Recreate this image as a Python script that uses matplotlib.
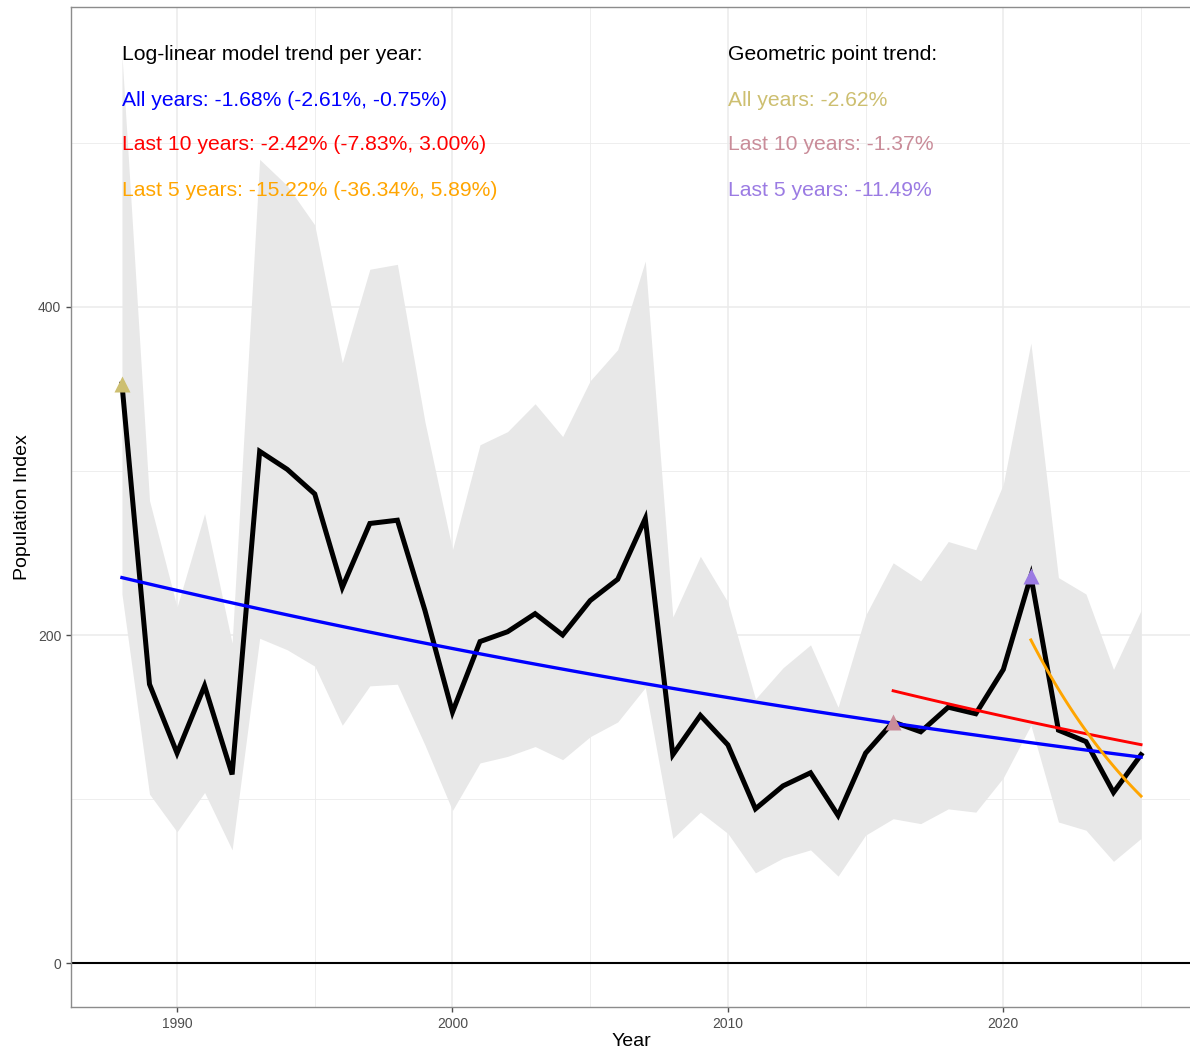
import numpy as np
import matplotlib
matplotlib.use("Agg")
import matplotlib.pyplot as plt

# data
years = list(range(1988, 2026))
index = [353, 170, 128, 169, 115, 312, 301, 286, 229, 268, 270, 215, 153,
         196, 202, 213, 200, 221, 234, 271, 127, 151, 133, 94, 108, 116,
         90, 128, 147, 141, 156, 152, 179, 236, 142, 135, 104, 127]
upper = [554, 282, 217, 274, 195, 490, 474, 450, 366, 423, 426, 330, 252,
         316, 324, 341, 321, 355, 374, 428, 211, 248, 220, 161, 180, 194,
         156, 212, 244, 233, 257, 252, 292, 378, 235, 225, 179, 215]
lower = [225, 103, 80, 104, 69, 198, 191, 181, 145, 169, 170, 133, 93,
         122, 126, 132, 124, 138, 147, 168, 76, 92, 79, 55, 64, 69,
         53, 78, 88, 85, 94, 92, 113, 145, 86, 81, 62, 76]

# log-linear fits: first year, fitted value at first year, yearly change
trend_start = [1988, 2016, 2021]
trend_value = [235, 166, 197]
trend_rate = [-0.0168, -0.0242, -0.1522]
trend_colors = ["#0000FF", "#FF0000", "#FFA500"]

# geometric point trend markers
point_years = [1988, 2016, 2021]
point_colors = ["#CDBF70", "#C98C99", "#9B7BE3"]

left_labels = ["Log-linear model trend per year:",
               "All years: -1.68% (-2.61%, -0.75%)",
               "Last 10 years: -2.42% (-7.83%, 3.00%)",
               "Last 5 years: -15.22% (-36.34%, 5.89%)"]
right_labels = ["Geometric point trend:",
                "All years: -2.62%",
                "Last 10 years: -1.37%",
                "Last 5 years: -11.49%"]
label_y = [554, 526, 499, 471]

plt.rcParams['font.family'] = ['Liberation Sans', 'DejaVu Sans']

fig = plt.figure(figsize=(11.9, 10.56), dpi=100)
ax = fig.add_axes([71 / 1190, 49 / 1056, 1121 / 1190, 1000 / 1056])

# grid like theme_bw
for v in [100, 300, 500]:
    ax.axhline(v, color="#EBEBEB", lw=0.6, zorder=0)
for v in [200, 400]:
    ax.axhline(v, color="#EBEBEB", lw=1.1, zorder=0)
for v in [1995, 2005, 2015, 2025]:
    ax.axvline(v, color="#EBEBEB", lw=0.6, zorder=0)
for v in [1990, 2000, 2010, 2020]:
    ax.axvline(v, color="#EBEBEB", lw=1.1, zorder=0)

ax.fill_between(years, lower, upper, color="#E8E8E8", lw=0, zorder=1)
ax.axhline(0, color="black", lw=1.5, zorder=2)
ax.plot(years, index, color="black", lw=3.6, solid_joinstyle="miter", zorder=3)

for y0, v0, r, c in zip(trend_start, trend_value, trend_rate, trend_colors):
    xs = np.linspace(y0, years[-1], 60)
    ax.plot(xs, v0 * (1 + r) ** (xs - y0), color=c, lw=2.4 if c == "#0000FF" else 2.1, zorder=4)

for yr, c in zip(point_years, point_colors):
    ax.plot(yr, index[years.index(yr)], marker="^", ms=11, color=c, mec="none", zorder=5)

for txt, y, c in zip(left_labels, label_y, ["black"] + trend_colors):
    ax.text(1988, y, txt, color=c, fontsize=15.2, ha="left", va="center", zorder=6)
for txt, y, c in zip(right_labels, label_y, ["black"] + point_colors):
    ax.text(2010, y, txt, color=c, fontsize=15.2, ha="left", va="center", zorder=6)

ax.set_xlim(1986.15, 2026.85)
ax.set_ylim(-26.8, 582.9)
ax.set_xticks([1990, 2000, 2010, 2020])
ax.set_yticks([0, 200, 400])
ax.tick_params(colors="#4D4D4D", labelsize=10, length=3.5, width=1.0)
for s in ax.spines.values():
    s.set_color("#8C8C8C")
    s.set_linewidth(1.0)

ax.set_xlabel("Year", fontsize=14, labelpad=2)
ax.set_ylabel("Population Index", fontsize=14, labelpad=5)

fig.savefig("out.png", dpi=100)
